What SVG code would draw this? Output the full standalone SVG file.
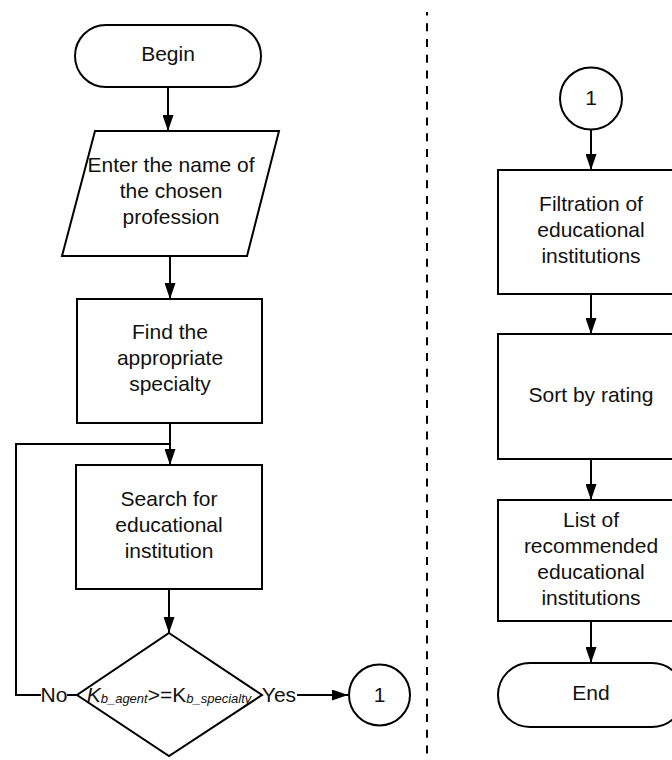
<svg xmlns="http://www.w3.org/2000/svg" width="672" height="760" viewBox="0 0 672 760">
<defs>
<marker id="arr" markerUnits="userSpaceOnUse" markerWidth="16" markerHeight="11" refX="16" refY="5.5" orient="auto">
<path d="M0,0 L16,5.5 L0,11 z" fill="#000"/>
</marker>
<style>
.n{fill:#fff;stroke:#000;stroke-width:2}
.c{fill:none;stroke:#000;stroke-width:2}
.t{font-family:"Liberation Sans",Arial,sans-serif;font-size:21px;fill:#111;text-anchor:middle}
.s{font-size:13px;font-style:italic}
</style>
</defs>
<rect width="672" height="760" fill="#fff"/>
<line x1="427" y1="12" x2="427" y2="760" stroke="#000" stroke-width="2" stroke-dasharray="8 7.7" stroke-dashoffset="4.4"/>
<g id="connectors">
<path class="c" d="M168,87 V131" marker-end="url(#arr)"/>
<path class="c" d="M170,256 V299" marker-end="url(#arr)"/>
<path class="c" d="M170,423 V465" marker-end="url(#arr)"/>
<path class="c" d="M169,589 V633" marker-end="url(#arr)"/>
<path class="c" d="M77,695 H67 M41,695 H16 V444 H170"/>
<text class="t" x="54" y="702">No</text>
<text class="t" x="279" y="702">Yes</text>
<path class="c" d="M297,695 H348" marker-end="url(#arr)"/>
<path class="c" d="M591,129 V170" marker-end="url(#arr)"/>
<path class="c" d="M591,294 V334" marker-end="url(#arr)"/>
<path class="c" d="M591,459 V500" marker-end="url(#arr)"/>
<path class="c" d="M591,621 V663" marker-end="url(#arr)"/>
</g>
<g id="begin">
<rect class="n" x="75" y="25" width="186" height="62" rx="31"/>
<text class="t" x="168" y="61">Begin</text>
</g>
<g id="enter">
<polygon class="n" points="95,131 279,131 247,256 62,256"/>
<text class="t" x="171" y="172">Enter the name of</text>
<text class="t" x="171" y="198">the chosen</text>
<text class="t" x="171" y="224">profession</text>
</g>
<g id="find">
<rect class="n" x="77" y="299" width="185" height="124"/>
<text class="t" x="170" y="339">Find the</text>
<text class="t" x="170" y="365">appropriate</text>
<text class="t" x="170" y="391">specialty</text>
</g>
<g id="search">
<rect class="n" x="76" y="465" width="186" height="124"/>
<text class="t" x="169" y="506">Search for</text>
<text class="t" x="169" y="532">educational</text>
<text class="t" x="169" y="558">institution</text>
</g>
<g id="decision">
<polygon class="n" points="169,633 262,695 169,756 77,695"/>
<text class="t" x="169" y="702"><tspan font-style="italic">K</tspan><tspan class="s" dy="1">b_agent</tspan><tspan dy="-1">&gt;=K</tspan><tspan class="s" dy="1">b_specialty</tspan></text>
</g>
<g id="conn1a">
<circle class="n" cx="379.5" cy="695" r="30.5"/>
<text class="t" x="379.5" y="702">1</text>
</g>
<g id="conn1b">
<circle class="n" cx="591" cy="98.5" r="31"/>
<text class="t" x="591" y="105">1</text>
</g>
<g id="filtration">
<rect class="n" x="498" y="170" width="186" height="124"/>
<text class="t" x="591" y="211">Filtration of</text>
<text class="t" x="591" y="237">educational</text>
<text class="t" x="591" y="263">institutions</text>
</g>
<g id="sort">
<rect class="n" x="498" y="334" width="186" height="125"/>
<text class="t" x="591" y="402">Sort by rating</text>
</g>
<g id="list">
<rect class="n" x="498" y="500" width="186" height="121"/>
<text class="t" x="591" y="527">List of</text>
<text class="t" x="591" y="553">recommended</text>
<text class="t" x="591" y="579">educational</text>
<text class="t" x="591" y="605">institutions</text>
</g>
<g id="end">
<rect class="n" x="498" y="663" width="186" height="64" rx="32"/>
<text class="t" x="591" y="700">End</text>
</g>
</svg>
